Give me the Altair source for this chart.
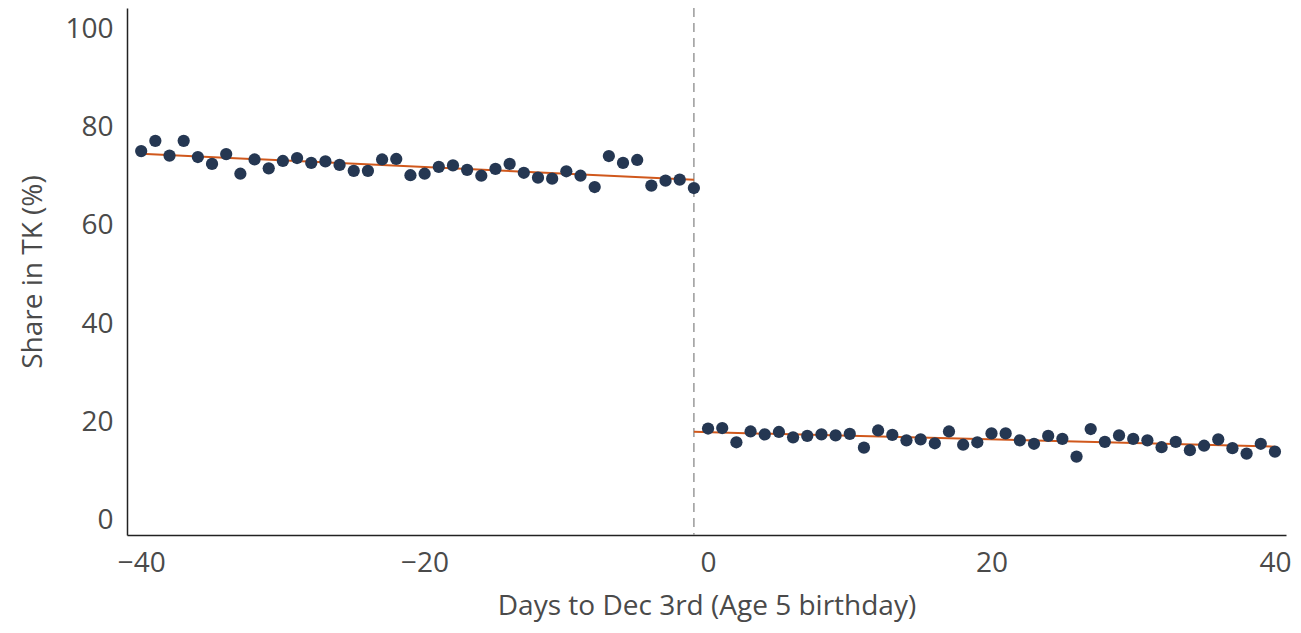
import altair as alt
import pandas as pd

left_days = list(range(-40, 0))
left_share = [75.2, 77.3, 74.3, 77.3, 74.0, 72.6, 74.6, 70.6, 73.5, 71.7,
              73.2, 73.8, 72.8, 73.1, 72.4, 71.2, 71.2, 73.5, 73.6, 70.3,
              70.6, 72.0, 72.3, 71.4, 70.2, 71.6, 72.6, 70.8, 69.8, 69.6,
              71.1, 70.2, 67.9, 74.2, 72.8, 73.4, 68.2, 69.2, 69.4, 67.7]
right_days = list(range(0, 41))
right_share = [18.8, 18.9, 16.0, 18.2, 17.6, 18.1, 17.0, 17.3, 17.6, 17.4,
               17.7, 14.9, 18.4, 17.5, 16.4, 16.6, 15.8, 18.2, 15.5, 16.0,
               17.8, 17.8, 16.4, 15.7, 17.3, 16.7, 13.1, 18.7, 16.1, 17.4,
               16.7, 16.4, 15.0, 16.1, 14.4, 15.3, 16.6, 14.8, 13.7, 15.7, 14.1]
cutoff = [-1]

FONT = "Open Sans"
TXT = "#4a4a4a"
DOT = "#253752"
FIT = "#d0581c"

df = pd.DataFrame({
    "day": left_days + right_days,
    "share": left_share + right_share,
    "side": ["before"] * len(left_days) + ["after"] * len(right_days),
})
left_df = df[df.side == "before"]
right_df = df[df.side == "after"]
cut_df = pd.DataFrame({"day": cutoff})

xs = alt.Scale(domain=[-41, 40.78], nice=False, zero=False)
ys = alt.Scale(domain=[-2.85, 104.3], nice=False, zero=False)

x_axis = alt.Axis(values=[-40, -20, 0, 20, 40], title="Days to Dec 3rd (Age 5 birthday)",
                  grid=False, ticks=False, labelPadding=14, titlePadding=15,
                  titleFontSize=28, domainColor="#222222", domainWidth=1.5)
y_axis = alt.Axis(values=[0, 20, 40, 60, 80, 100], title="Share in TK (%)",
                  grid=False, ticks=False, labelPadding=14, titlePadding=17,
                  titleFontSize=28, domainColor="#222222", domainWidth=1.5)

base = alt.Chart(df)

points = base.mark_circle(size=150, opacity=1, color=DOT).encode(
    x=alt.X("day:Q", scale=xs, axis=x_axis),
    y=alt.Y("share:Q", scale=ys, axis=y_axis),
)

fit_left = alt.Chart(left_df).transform_regression(
    "day", "share", extent=[-40, -1]
).mark_line(color=FIT, strokeWidth=2).encode(
    x=alt.X("day:Q", scale=xs), y=alt.Y("share:Q", scale=ys)
)
fit_right = alt.Chart(right_df).transform_regression(
    "day", "share", extent=[-1, 40]
).mark_line(color=FIT, strokeWidth=2).encode(
    x=alt.X("day:Q", scale=xs), y=alt.Y("share:Q", scale=ys)
)

rule = alt.Chart(cut_df).mark_rule(color="#9a9a9a", strokeWidth=1.5, strokeDash=[9, 6]).encode(
    x=alt.X("day:Q", scale=xs)
)

chart = alt.layer(rule, fit_left, fit_right, points).properties(
    width=1159, height=527,
    autosize=alt.AutoSizeParams(type="none"),
    padding={"left": 119, "top": 0, "right": 7, "bottom": 90},
).configure_view(stroke=None).configure_axis(
    labelFont=FONT, titleFont=FONT, labelFontSize=28,
    labelColor=TXT, titleColor=TXT, titleFontWeight="normal",
)

chart.save("out.html", embed_options={"renderer": "svg", "actions": False})
